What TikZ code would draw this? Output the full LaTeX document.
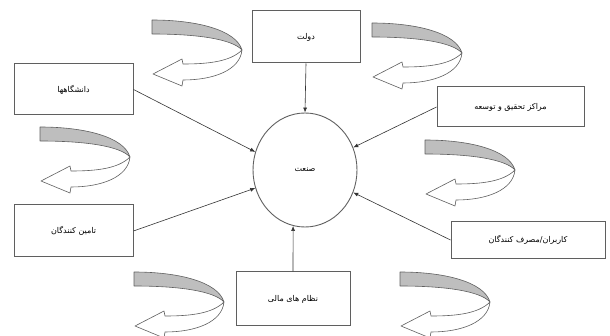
\documentclass[tikz,border=0pt]{standalone}
\usepackage{fontspec}
\usepackage{tikz}
\usetikzlibrary{arrows.meta,positioning,shapes.geometric}
\TeXXeTstate=1
\newfontfamily\arabicfont[Script=Arabic]{DejaVu Sans}
\definecolor{BandGray}{RGB}{190,190,190}
\definecolor{EdgeGray}{RGB}{95,95,95}
\newcommand{\fa}[1]{{\arabicfont\beginR #1\endR}}
\newcommand{\turnarrow}[2]{%
  \begin{scope}[shift={(#1,#2)}]
    \draw[turnline,fill=white] (90,30) .. controls (78,42) and (55,44) .. (31,44)
      -- (30,39) -- (1,54) -- (30,66) -- (31,60)
      .. controls (62,60) and (88,50) .. (90,30) -- cycle;
    \draw[turnline,fill=BandGray] (0,0) .. controls (45,0) and (84,10) .. (90,30)
      .. controls (80,19) and (45,14) .. (0,14) -- cycle;
  \end{scope}}
\tikzset{
  actor/.style={draw=EdgeGray,line width=1pt,fill=white,font=\fontsize{8}{9}\selectfont},
  core/.style={ellipse,draw=EdgeGray,line width=0.9pt,minimum width=104pt,
    minimum height=114pt,inner sep=0pt,font=\fontsize{8}{9}\selectfont},
  turnline/.style={draw=EdgeGray,line width=0.6pt,line join=round},
  feed/.style={-{Latex[length=5pt,width=4pt]},line width=0.6pt,black!80}
}

\begin{document}
\begin{tikzpicture}[x=1pt,y=-1pt]
  \useasboundingbox (0,0) rectangle (610,336);
  % rotating arrows
  \turnarrow{152}{20}
  \turnarrow{372}{23}
  \turnarrow{40}{127}
  \turnarrow{425}{140}
  \turnarrow{134}{272}
  \turnarrow{400}{272}
  % the industry in the middle
  \node[core] (ind) at (305,170) {\fa{صنعت}};
  % surrounding actors
  \node[actor,minimum width=108pt,minimum height=52pt] (gov) at (306,37) {\fa{دولت}};
  \node[actor,minimum width=119pt,minimum height=51pt] (uni) at (73.5,89.5) {\fa{دانشگاهها}};
  \node[actor,minimum width=147pt,minimum height=40pt] (rnd) at (510.5,107) {\fa{مراکز تحقیق و توسعه}};
  \node[actor,minimum width=119pt,minimum height=52pt] (sup) at (73.5,231) {\fa{تامین کنندگان}};
  \node[actor,minimum width=154pt,minimum height=37pt] (usr) at (528,240) {\fa{کاربران/مصرف کنندگان}};
  \node[actor,minimum width=114pt,minimum height=54pt] (fin) at (293,299) {\fa{نظام های مالی}};
  % links into the industry
  \draw[feed] (gov.south) -- (ind.north);
  \draw[feed] (uni.east) -- (ind.160);
  \draw[feed] (rnd.west) -- (ind.25);
  \draw[feed] (sup.east) -- (ind.200);
  \draw[feed] (usr.west) -- (ind.335);
  \draw[feed] (fin.north) -- (ind.258);
\end{tikzpicture}
\end{document}
